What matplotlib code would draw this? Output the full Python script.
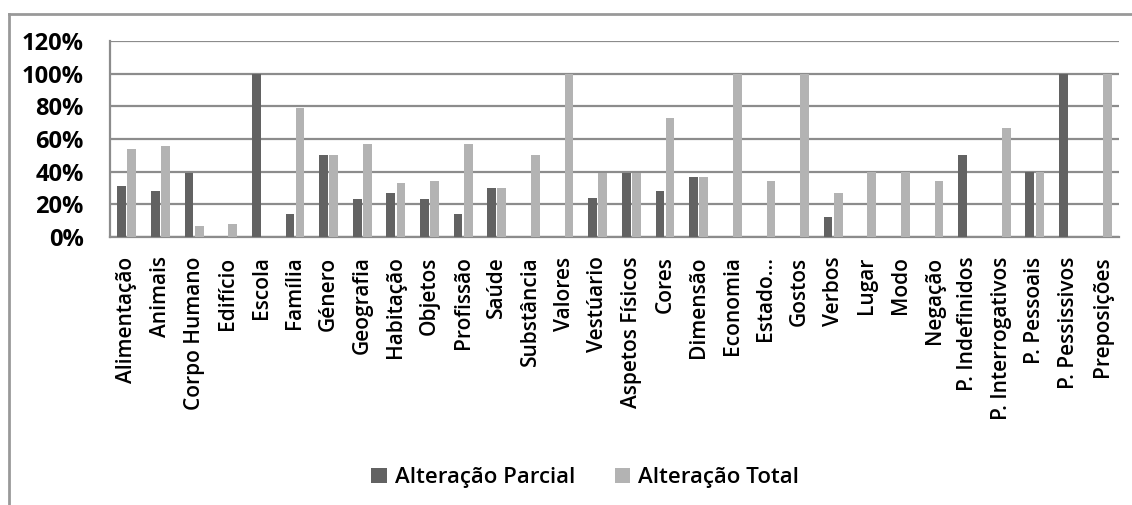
import numpy as np
import matplotlib.pyplot as plt
from matplotlib.lines import Line2D

# categories and values (percent)
categories = ['Alimentação', 'Animais', 'Corpo Humano', 'Edifício', 'Escola',
              'Família', 'Género', 'Geografia', 'Habitação', 'Objetos',
              'Profissão', 'Saúde', 'Substância', 'Valores', 'Vestúario',
              'Aspetos Físicos', 'Cores', 'Dimensão', 'Economia', 'Estado…',
              'Gostos', 'Verbos', 'Lugar', 'Modo', 'Negação',
              'P. Indefinidos', 'P. Interrogativos', 'P. Pessoais',
              'P. Pessissivos', 'Preposições']
parcial = [31, 28, 39, 0, 100, 14, 50, 23, 27, 23,
           14, 30, 0, 0, 24, 39, 28, 36.5, 0, 0,
           0, 12, 0, 0, 0, 50, 0, 40, 100, 0]
total = [54, 56, 7, 8, 0, 79, 50, 57, 33, 34,
         57, 30, 50, 100, 39, 39, 73, 36.5, 100, 34,
         100, 27, 40, 40, 34, 0, 67, 40, 0, 100]
y_ticks = [0, 20, 40, 60, 80, 100, 120]

dark = '#626262'
light = '#b3b3b3'
line_col = '#8c8c8c'
font = 'Open Sans'

fig = plt.figure(figsize=(11.32, 5.05), dpi=100)
ax = fig.add_axes([110 / 1132, 1 - 237 / 505, (1119 - 110) / 1132, (237 - 41) / 505])

x = np.arange(len(categories))
w = 0.26
ax.bar(x - 0.15, parcial, w, color=dark, label='Alteração Parcial', zorder=3)
ax.bar(x + 0.15, total, w, color=light, label='Alteração Total', zorder=3)

ax.set_xlim(-0.5, len(categories) - 0.5)
ax.set_ylim(0, 120)
ax.set_yticks(y_ticks)
ax.set_yticklabels([f'{v}%' for v in y_ticks], fontsize=17, fontfamily=font,
                   fontweight='bold')
ax.set_xticks(x)
ax.set_xticklabels(categories, rotation=90, fontsize=15, fontfamily=font,
                   fontweight='semibold')
ax.tick_params(axis='y', length=0, pad=19)
ax.tick_params(axis='x', length=0, pad=14)

ax.grid(axis='y', color=line_col, linewidth=1.6, zorder=0)
for s in ['left', 'bottom']:
    ax.spines[s].set_color(line_col)
    ax.spines[s].set_linewidth(1.6)
ax.spines['right'].set_visible(False)
ax.spines['top'].set_visible(False)

ax.legend(loc='center', bbox_to_anchor=(0.517, 0.054), bbox_transform=fig.transFigure,
          ncol=2, frameon=False,
          prop={'family': font, 'size': 16, 'weight': 'semibold'},
          handlelength=0.7, handleheight=0.7, handletextpad=0.35, columnspacing=1.8)

# outer chart border (cropped on right and bottom)
fig.add_artist(Line2D([9 / 1132, 9 / 1132], [0, 1 - 14 / 505], color='#999999', linewidth=2))
fig.add_artist(Line2D([9 / 1132, 1], [1 - 14 / 505, 1 - 14 / 505], color='#999999', linewidth=2))

fig.savefig('out.png', dpi=100)
